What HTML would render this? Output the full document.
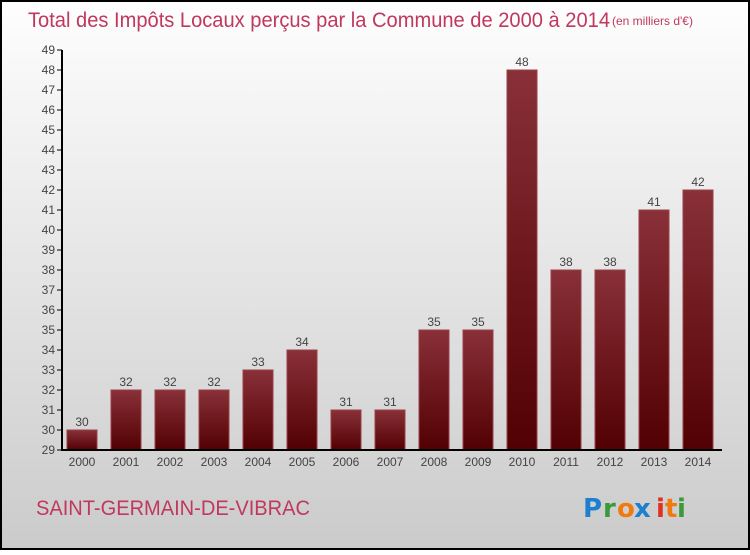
<!DOCTYPE html>
<html><head><meta charset="utf-8"><style>
html,body{margin:0;padding:0}
body{width:750px;height:550px;overflow:hidden;font-family:"Liberation Sans",sans-serif}
</style></head><body>
<svg width="750" height="550" xmlns="http://www.w3.org/2000/svg">
<defs>
<linearGradient id="bg" x1="0" y1="0" x2="0" y2="1"><stop offset="0" stop-color="#fefefe"/><stop offset="1" stop-color="#cbcbcb"/></linearGradient>
<linearGradient id="bar" x1="0" y1="0" x2="0" y2="1"><stop offset="0" stop-color="#893038"/><stop offset="1" stop-color="#520003"/></linearGradient>
</defs>
<rect x="1" y="1" width="748" height="548" fill="url(#bg)" stroke="#000" stroke-width="2"/>
<text x="28" y="27" font-size="21" fill="#c0385e" textLength="582" lengthAdjust="spacingAndGlyphs">Total des Impôts Locaux perçus par la Commune de 2000 à 2014</text>
<text x="612" y="25" font-size="12" fill="#c0385e">(en milliers d'€)</text>
<g id="plot"></g>
<text x="36" y="515" font-size="21" fill="#c0385e" textLength="274" lengthAdjust="spacingAndGlyphs">SAINT-GERMAIN-DE-VIBRAC</text>
<g font-size="26" font-weight="bold" font-family="'DejaVu Sans',sans-serif">
<text x="583" y="517" fill="#1e7fd0">P</text><text x="603" y="517" fill="#3a9a3a">r</text><text x="617" y="517" fill="#f07a10">o</text><text x="634" y="517" fill="#1e7fd0">x</text><text x="656" y="517" fill="#e03020">i</text><text x="665" y="517" fill="#f07a10">t</text><text x="677" y="517" fill="#3a9a3a">i</text>
</g>
</svg>
<script>
const years=[2000,2001,2002,2003,2004,2005,2006,2007,2008,2009,2010,2011,2012,2013,2014];
const values=[30,32,32,32,33,34,31,31,35,35,48,38,38,41,42];
const yTicks=[29,30,31,32,33,34,35,36,37,38,39,40,41,42,43,44,45,46,47,48,49];
const NS='http://www.w3.org/2000/svg';
const g=document.getElementById('plot');
const y=v=>450-(v-29)*20;
const x=i=>82+i*44;
function el(t,a){const e=document.createElementNS(NS,t);for(const k in a)e.setAttribute(k,a[k]);g.appendChild(e);return e;}
yTicks.forEach(t=>{
 const l=el('line',{x1:57,x2:62,y1:y(t),y2:y(t),stroke:'#000'});
 
 
 const tx=el('text',{x:55,y:y(t)+4,'font-size':12,'text-anchor':'end',fill:'#444'});
 tx.textContent=t;
 
 
});
values.forEach((v,i)=>{
 const r=el('rect',{x:x(i)-15,y:y(v),width:30,height:450-y(v),fill:'url(#bar)',stroke:'#9a4048','stroke-width':1});
 
 
 const vl=el('text',{x:x(i),y:y(v)-4,'font-size':12,'text-anchor':'middle',fill:'#444'});
 vl.textContent=v;
 
 
 const xl=el('text',{x:x(i),y:466,'font-size':12,'text-anchor':'middle',fill:'#444'});
 xl.textContent=years[i];
 
 
});
const ya=el('line',{x1:62,x2:62,y1:50,y2:451,stroke:'#000','stroke-width':2});


const xa=el('line',{x1:61,x2:722,y1:450,y2:450,stroke:'#000','stroke-width':2});


</script>
</body></html>
